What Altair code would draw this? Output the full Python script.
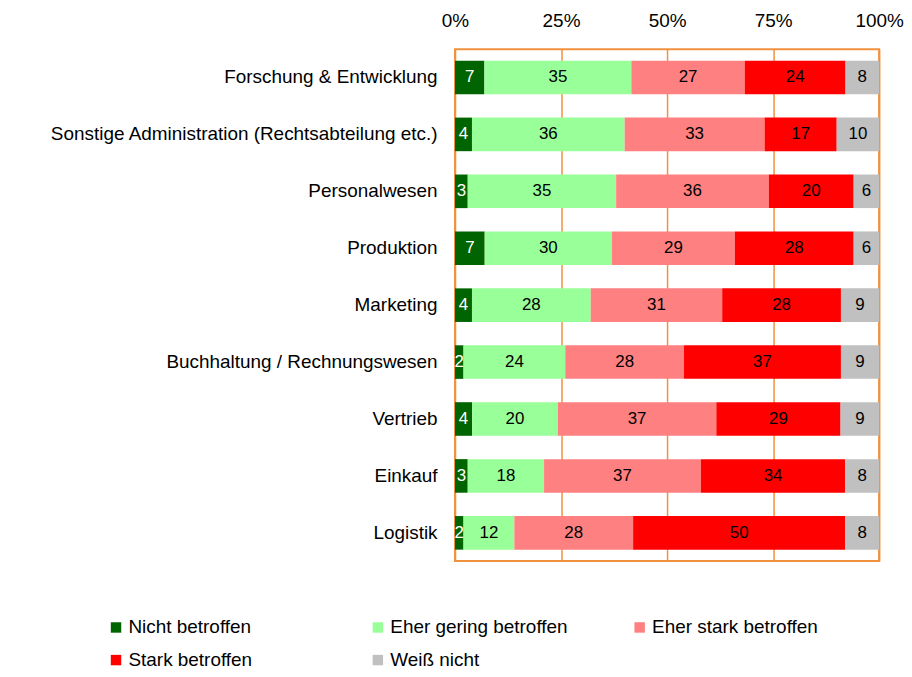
import altair as alt
import pandas as pd

categories = [
    "Forschung & Entwicklung",
    "Sonstige Administration (Rechtsabteilung etc.)",
    "Personalwesen",
    "Produktion",
    "Marketing",
    "Buchhaltung / Rechnungswesen",
    "Vertrieb",
    "Einkauf",
    "Logistik",
]
series = [
    "Nicht betroffen",
    "Eher gering betroffen",
    "Eher stark betroffen",
    "Stark betroffen",
    "Weiß nicht",
]
nicht = [7, 4, 3, 7, 4, 2, 4, 3, 2]
gering = [35, 36, 35, 30, 28, 24, 20, 18, 12]
eher_stark = [27, 33, 36, 29, 31, 28, 37, 37, 28]
stark = [24, 17, 20, 28, 28, 37, 29, 34, 50]
weiss = [8, 10, 6, 6, 9, 9, 9, 8, 8]
colors = ["#006400", "#99FF99", "#FF8080", "#FF0000", "#C0C0C0"]
text_colors = ["white", "black", "black", "black", "black"]

rows = []
for s_i, (s, vals) in enumerate(zip(series, [nicht, gering, eher_stark, stark, weiss])):
    for c, v in zip(categories, vals):
        rows.append({"cat": c, "series": s, "order": s_i, "value": v,
                     "tcol": text_colors[s_i]})
df = pd.DataFrame(rows)

FONT = "Liberation Sans"
ORANGE = "#F0913F"

base = alt.Chart(df).transform_stack(
    stack="value", as_=["x0", "x1"], groupby=["cat"],
    sort=[alt.SortField("order", order="ascending")], offset="normalize"
).transform_calculate(mid="(datum.x0 + datum.x1) / 2")

y_enc = alt.Y("cat:N", sort=categories, title=None,
              scale=alt.Scale(paddingInner=0.41, paddingOuter=0.2),
              axis=alt.Axis(labelFont=FONT, labelFontSize=19, labelColor="black",
                            ticks=False, domain=False, labelPadding=18,
                            labelLimit=600))

bars = base.mark_bar().encode(
    x=alt.X("x0:Q", title=None,
            scale=alt.Scale(domain=[0, 1], nice=False),
            axis=alt.Axis(orient="top", values=[0, 0.25, 0.5, 0.75, 1],
                          labelExpr="round(datum.value*100) + '%'",
                          labelFont=FONT, labelFontSize=19, labelColor="black",
                          ticks=False, domain=False, labelPadding=19,
                          grid=True, gridColor=ORANGE, gridWidth=1.5,
                          gridOpacity=1, labelFlush=False)),
    x2="x1:Q",
    y=y_enc,
    color=alt.Color("series:N", sort=series,
                    scale=alt.Scale(domain=series, range=colors),
                    legend=alt.Legend(title=None, orient="none", columns=3,
                                      legendX=-350, legendY=571,
                                      direction="horizontal",
                                      symbolType="square", symbolSize=110,
                                      symbolStrokeWidth=0, symbolOpacity=1,
                                      labelFont=FONT, labelFontSize=19,
                                      labelColor="black", labelOffset=3,
                                      gridAlign="all", columnPadding=62,
                                      rowPadding=13, labelLimit=400)),
    order=alt.Order("order:Q"),
)

labels = base.mark_text(font=FONT, fontSize=17, baseline="middle").encode(
    x=alt.X("mid:Q"),
    y=alt.Y("cat:N", sort=categories),
    text=alt.Text("value:Q"),
    color=alt.Color("tcol:N", scale=None, legend=None),
)

chart = alt.layer(bars, labels).properties(
    width=426, height=514,
    background="white",
    padding={"left": 41, "top": 2, "right": 0, "bottom": 0},
).configure_view(stroke=ORANGE, strokeWidth=2)

chart.save("out.html", embed_options={"renderer": "svg", "actions": False})
